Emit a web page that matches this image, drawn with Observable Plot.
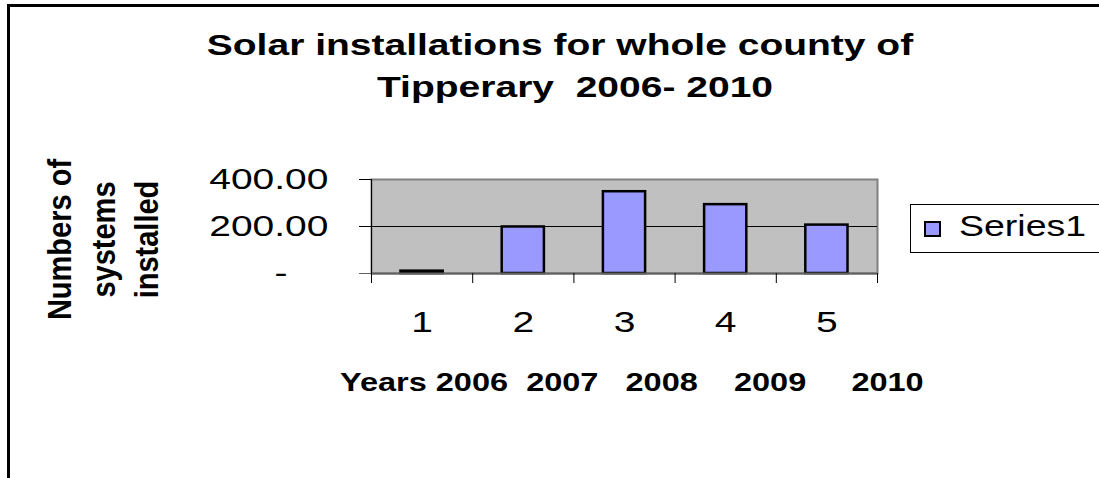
<!DOCTYPE html>
<html><head><meta charset="utf-8">
<script src="https://cdn.jsdelivr.net/npm/d3@7"></script>
<script src="https://cdn.jsdelivr.net/npm/@observablehq/plot@0.6"></script>
<style>
html,body{margin:0;padding:0;background:#fff;}
#wrap{position:relative;width:1099px;height:478px;overflow:hidden;font-family:"Liberation Sans",Arial,sans-serif;color:#000;}
#wrap svg{position:absolute;left:0;top:0;}
#border{position:absolute;left:7px;top:4px;width:1200px;height:600px;border-top:3px solid #000;border-left:3px solid #000;}
.t{position:absolute;white-space:pre;}
#title1{top:24px;left:0;width:1120px;text-align:center;font-weight:bold;font-size:30px;line-height:42px;transform:scaleX(1.3);}
#title2{top:66px;left:0;width:1150px;text-align:center;font-weight:bold;font-size:30px;line-height:42px;transform:scaleX(1.3);}
#xtitle{top:367px;left:340px;font-weight:bold;font-size:25px;line-height:30px;transform:scaleX(1.3);transform-origin:0 0;}
#ytitle{left:-46px;top:181px;width:300px;height:117px;text-align:center;font-weight:bold;font-size:29px;line-height:39px;transform:rotate(-90deg) scaleY(1.12);}
#legend{position:absolute;left:910px;top:204px;width:220px;height:47px;border:1px solid #000;background:#fff;}
#swatch{position:absolute;left:924px;top:221px;width:13px;height:12px;border:2px solid #000;background:#9999ff;}
#legtext{top:205px;left:959px;font-size:30px;line-height:42px;transform:scaleX(1.25);transform-origin:0 0;}
</style></head>
<body>
<div id="wrap">
  <div id="chart"></div>
  <div id="border"></div>
  <div id="title1" class="t"></div>
  <div id="title2" class="t"></div>
  <div id="ytitle" class="t"></div>
  <div id="xtitle" class="t"></div>
  <div id="legend"></div>
  <div id="swatch"></div>
  <div id="legtext" class="t"></div>
</div>
<script>
// ---- data ----
const titleLines = ["Solar installations for whole county of", "Tipperary  2006- 2010"];
const yTitleLines = ["Numbers of", "systems", "installed"];
const xTitle = "Years 2006  2007   2008    2009     2010";
const seriesName = "Series1";
const categories = ["1", "2", "3", "4", "5"];
const values = [10, 198, 348, 293, 206];
const yTicks = [200, 400];
const yZeroTick = [0];
const boundaryTicks = [0, 1, 2, 3, 4, 5];

document.getElementById("title1").textContent = titleLines[0];
document.getElementById("title2").textContent = titleLines[1];
document.getElementById("ytitle").textContent = yTitleLines.join("\n");
document.getElementById("xtitle").textContent = xTitle;
document.getElementById("legtext").textContent = seriesName;

const font = '"Liberation Sans", Arial, sans-serif';
const svg = Plot.plot({
  width: 1099,
  height: 478,
  marginLeft: 371,
  marginRight: 222,
  marginTop: 179,
  marginBottom: 205,
  style: {fontFamily: font, background: "transparent", overflow: "visible"},
  x: {domain: [0, categories.length], axis: null},
  y: {domain: [0, 400], axis: null},
  marks: [
    Plot.frame({fill: "#c0c0c0", stroke: "#808080", strokeWidth: 2}),
    Plot.ruleY(yTicks.filter(d => d < 400), {stroke: "#000", strokeWidth: 1}),
    Plot.rectY(values, {x1: (d, i) => i, x2: (d, i) => i + 1, y: d => d, insetLeft: 29.5, insetRight: 29.5,
      fill: "#9999ff", stroke: "#000", strokeWidth: 2.5}),
    Plot.ruleY([0], {stroke: "#606060", strokeWidth: 2}),
    Plot.ruleX([0], {stroke: "#000", strokeWidth: 1}),
    Plot.axisY({ticks: yTicks, tickFormat: d => d.toFixed(2), tickSize: 12, tickPadding: 31, fontSize: 30, stroke: "#000", strokeWidth: 1}),
    Plot.axisY({ticks: yZeroTick, tickFormat: () => "-", tickSize: 12, tickPadding: 72, fontSize: 30, stroke: "#606060", strokeWidth: 1}),
    Plot.axisX({ticks: boundaryTicks, tickFormat: () => "", tickSize: 10, stroke: "#000", strokeWidth: 1}),
    Plot.text(categories, {x: (d, i) => i + 0.5, text: d => d, frameAnchor: "bottom", dy: 58, fontSize: 30, fill: "#000"})
  ]
});
document.getElementById("chart").appendChild(svg);

// widen horizontal texts like the reference (scale about each label's anchor)
svg.querySelectorAll("text").forEach(t => {
  const tr = t.getAttribute("transform");
  if (tr) t.setAttribute("transform", tr + " scale(1.3,1)");
});
</script>
</body></html>
